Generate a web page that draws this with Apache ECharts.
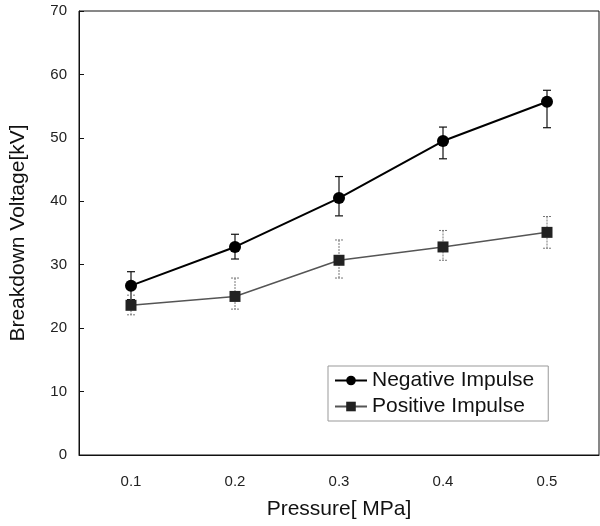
<!DOCTYPE html>
<html>
<head>
<meta charset="utf-8">
<script src="https://cdn.jsdelivr.net/npm/echarts@6/dist/echarts.min.js"></script>
<style>
  html, body { margin: 0; padding: 0; background: #fff; }
  #chart { width: 600px; height: 526px; }
</style>
</head>
<body>
<div id="chart"></div>
<script>
// pressure categories [MPa]
var pressures = ['0.1', '0.2', '0.3', '0.4', '0.5']
// breakdown voltage [kV]
var negMean = [26.7, 32.8, 40.5, 49.5, 55.7]
var negLow = [24.5, 30.9, 37.7, 46.7, 51.6]
var negHigh = [28.9, 34.8, 43.9, 51.7, 57.5]
var posMean = [23.6, 25.0, 30.7, 32.8, 35.1]
var posLow = [22.1, 23.0, 27.9, 30.7, 32.6]
var posHigh = [25.2, 27.9, 33.9, 35.4, 37.6]

var font = 'Liberation Sans, Arial, sans-serif'

function errData(low, high) {
  return low.map(function (v, i) {
    return [i, v, high[i]]
  })
}

// vertical error bar with small caps
function errRender(color, width, dash) {
  return function (params, api) {
    var x = api.value(0)
    var lo = api.coord([x, api.value(1)])
    var hi = api.coord([x, api.value(2)])
    var cap = 4
    var style = { stroke: color, lineWidth: width, lineDash: dash }
    return {
      type: 'group',
      children: [
        { type: 'line', shape: { x1: hi[0], y1: hi[1], x2: lo[0], y2: lo[1] }, style: style },
        { type: 'line', shape: { x1: hi[0] - cap, y1: hi[1], x2: hi[0] + cap, y2: hi[1] }, style: style },
        { type: 'line', shape: { x1: lo[0] - cap, y1: lo[1], x2: lo[0] + cap, y2: lo[1] }, style: style },
      ],
    }
  }
}

var chart = echarts.init(document.getElementById('chart'))
var option = {
  animation: false,
  backgroundColor: '#fff',
  grid: {
    left: 75,
    right: 1,
    top: 11,
    bottom: 71,
    show: true,
    borderColor: '#111',
    borderWidth: 1,
  },
  legend: {
    left: 328,
    top: 366,
    orient: 'vertical',
    itemWidth: 32,
    itemHeight: 12,
    itemGap: 5,
    padding: [4, 14, 4, 6],
    borderColor: '#999',
    borderWidth: 1,
    textStyle: { fontFamily: font, fontSize: 21, color: '#111' },
    data: ['Negative Impulse', 'Positive Impulse'],
  },
  xAxis: {
    type: 'category',
    data: pressures,
    boundaryGap: true,
    name: 'Pressure[ MPa]',
    nameLocation: 'middle',
    nameGap: 44,
    nameTextStyle: { fontFamily: font, fontSize: 21, color: '#111' },
    axisLine: { lineStyle: { color: '#111' } },
    axisTick: { inside: true, length: 6, interval: 0, lineStyle: { color: '#111' } },
    axisLabel: { fontFamily: font, fontSize: 15, color: '#222', margin: 19 },
    splitLine: { show: false },
  },
  yAxis: {
    type: 'value',
    min: 0,
    max: 70,
    interval: 10,
    name: 'Breakdown Voltage[kV]',
    nameLocation: 'middle',
    nameGap: 50,
    nameTextStyle: { fontFamily: font, fontSize: 21, color: '#111' },
    axisLine: { show: true, lineStyle: { color: '#111' } },
    axisTick: { show: true, inside: true, length: 5, lineStyle: { color: '#111' } },
    axisLabel: { fontFamily: font, fontSize: 15, color: '#222', margin: 12 },
    splitLine: { show: false },
  },
  series: [
    {
      type: 'custom',
      renderItem: errRender('#111', 1.2, null),
      data: errData(negLow, negHigh),
      z: 1,
    },
    {
      type: 'custom',
      renderItem: errRender('#777', 1, [2, 1]),
      data: errData(posLow, posHigh),
      z: 1,
    },
    {
      name: 'Negative Impulse',
      type: 'line',
      data: negMean,
      symbol: 'circle',
      symbolSize: 12,
      itemStyle: { color: '#000' },
      lineStyle: { color: '#000', width: 2 },
      z: 3,
    },
    {
      name: 'Positive Impulse',
      type: 'line',
      data: posMean,
      symbol: 'rect',
      symbolSize: 11,
      itemStyle: { color: '#222' },
      lineStyle: { color: '#555', width: 1.5 },
      z: 3,
    },
  ],
}
chart.setOption(option)
</script>
</body>
</html>
